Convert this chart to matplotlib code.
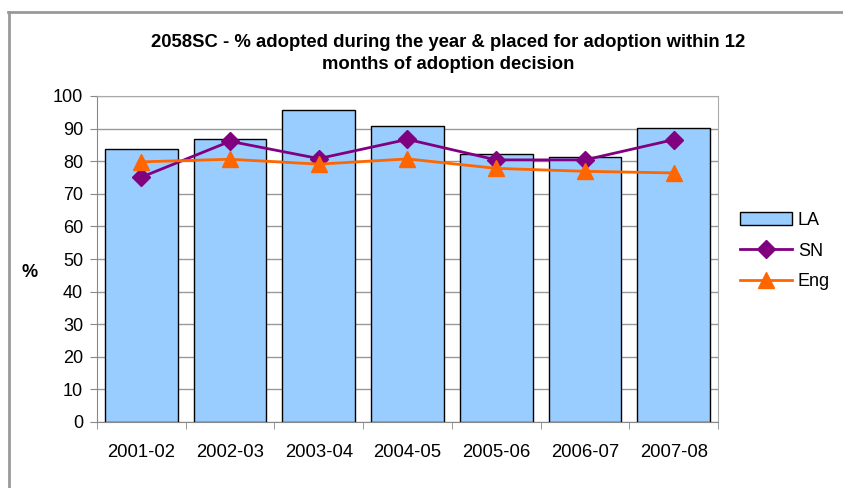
import matplotlib
matplotlib.use("Agg")
from matplotlib import pyplot as plt
from matplotlib.lines import Line2D
import numpy as np

plt.rcParams['font.family'] = ['Liberation Sans', 'DejaVu Sans']

years = ["2001-02", "2002-03", "2003-04", "2004-05", "2005-06", "2006-07", "2007-08"]
la = [83.8, 86.7, 95.7, 90.9, 82.3, 81.3, 90.2]
sn = [75.1, 86.1, 80.8, 86.7, 80.4, 80.4, 86.6]
eng = [79.8, 80.6, 79.1, 80.7, 77.8, 76.9, 76.4]

fig = plt.figure(figsize=(8.43, 4.88), dpi=100)
ax = fig.add_axes([97/843, 1 - 422/488, 621/843, 326/488])

x = np.arange(len(years))
b = ax.bar(x, la, width=0.82, color="#99CCFF", edgecolor="black", linewidth=1, label="LA", zorder=2)
l1, = ax.plot(x, sn, color="#800080", marker="D", markersize=9, linewidth=2, label="SN", zorder=3)
l2, = ax.plot(x, eng, color="#FF6600", marker="^", markersize=11, linewidth=2, label="Eng", zorder=3)

ax.set_xlim(-0.5, len(years) - 0.5)
ax.set_ylim(0, 100)
ax.set_yticks(range(0, 101, 10))
ax.set_xticks(x)
ax.set_xticklabels(years, fontsize=13.3)
ax.set_xticks(np.arange(-0.5, len(years)), minor=True)
ax.tick_params(axis="x", which="major", length=0, pad=16)
ax.tick_params(axis="x", which="minor", length=5, color="#888888")
ax.tick_params(axis="y", labelsize=13, length=5, color="#888888", pad=5)
ax.grid(axis="y", color="#999999", linewidth=1, zorder=0)
for s in ax.spines.values():
    s.set_color("#aaaaaa")
ax.spines["left"].set_color("#888888")
ax.spines["bottom"].set_color("#888888")

ax.set_ylabel("%", fontsize=13, fontweight="bold", rotation=0, va="center")
ax.yaxis.set_label_coords(-0.108, 0.46)

fig.suptitle("2058SC - % adopted during the year & placed for adoption within 12\nmonths of adoption decision",
             x=448/843, fontsize=13.3, fontweight="bold", y=0.93, linespacing=1.35)

ax.legend([b, l1, l2], ["LA", "SN", "Eng"], loc="center left",
          bbox_to_anchor=(740/843, 1 - 251/488), bbox_transform=fig.transFigure,
          frameon=False, fontsize=13, handlelength=2.9, labelspacing=0.75,
          handletextpad=0.3, borderpad=0, borderaxespad=0)

fig.add_artist(Line2D([9/843, 9/843], [0, 1 - 12/488], color="#999999", linewidth=2, transform=fig.transFigure))
fig.add_artist(Line2D([8/843, 1], [1 - 12/488, 1 - 12/488], color="#999999", linewidth=2, transform=fig.transFigure))

fig.savefig("out.png", dpi=100)
